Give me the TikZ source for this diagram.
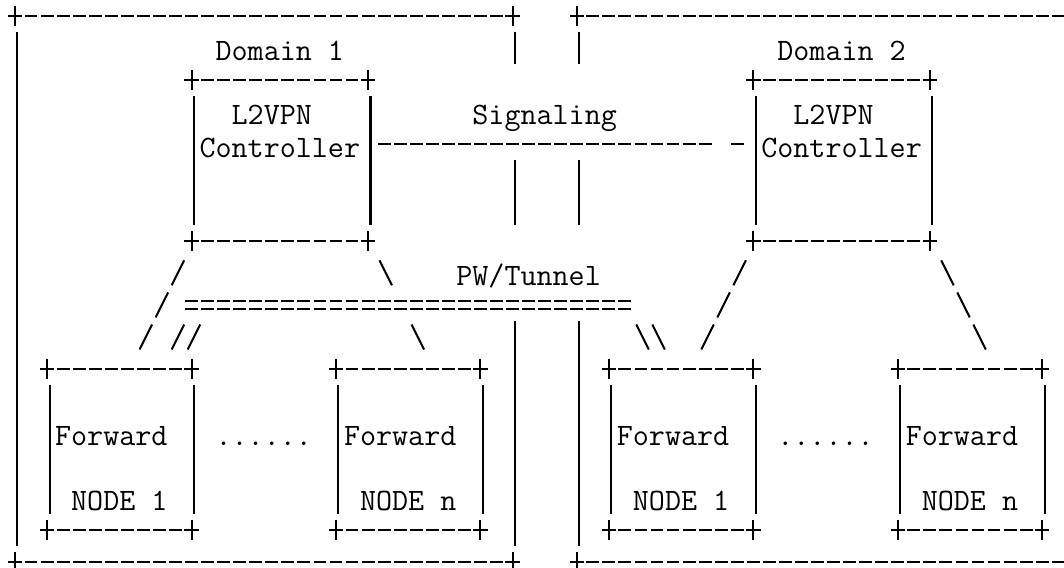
\documentclass[tikz,border=0pt]{standalone}
\usepackage{fontspec}
\usetikzlibrary{calc,fit}

\newlength{\chw}
\newcommand{\asciifont}{\ttfamily\fontsize{\asciisize}{20}\selectfont}
\AtBeginDocument{%
    \settowidth{\chw}{\ttfamily\fontsize{17.4}{20}\selectfont 0}%
    \pgfmathsetmacro{\asciisize}{17.4*9.133/\chw}%
}

\tikzset{
    glyph/.style={line width=1.15pt},
    hdash/.style={glyph, dash pattern=on 0.2568cm off 0.0642cm, dash phase=0.2889cm},
    vbar/.style={glyph},
    slash/.style={glyph, dash pattern=on 0.56cm off 0.158cm,
        shorten <=0.438cm, shorten >=0.438cm},
    slashgap/.style={glyph, dash pattern=on 0.56cm off 0.876cm,
        shorten <=0.438cm, shorten >=0.438cm},
    plus/.pic={\draw[glyph] (-0.45,0) -- (0.45,0) (0,-0.31) -- (0,0.31);},
    frame/.style={inner sep=0pt, outer sep=0pt},
    lbl/.style={inner sep=0pt, outer sep=0pt, text height=0.608cm,
        text depth=0.1cm, font=\asciifont}
}

% top and bottom rule of a box, with + at the corners
\newcommand{\asciiframe}[1]{%
    \draw[hdash] ($(#1.north west)+(0.5,0)$) -- ($(#1.north east)+(-0.5,0)$);
    \draw[hdash] ($(#1.south west)+(0.5,0)$) -- ($(#1.south east)+(-0.5,0)$);
    \foreach \corner in {north west,north east,south west,south east}
        \pic at (#1.\corner) {plus};
}
% left and right side of a box
\newcommand{\asciisides}[1]{%
    \draw[vbar] ($(#1.north west)+(0.15,-0.5)$) -- ($(#1.south west)+(0.15,0.5)$);
    \draw[vbar] ($(#1.north east)+(0.15,-0.5)$) -- ($(#1.south east)+(0.15,0.5)$);
}

\begin{document}
\begin{tikzpicture}[x=0.321cm, y=0.642cm]

\useasboundingbox (-0.935,0.498) rectangle (65.36,-17.196);
\clip (-0.935,0.498) rectangle (65.36,-17.196);

% Domains
\node[frame, fit={(0,0) (31,-17)}] (dom1) {};
\node[frame, fit={(35,0) (66,-17)}] (dom2) {};
\asciiframe{dom1}
\asciiframe{dom2}
\draw[vbar] ($(dom1.north west)+(0.15,-0.5)$) -- ($(dom1.south west)+(0.15,0.5)$);
\foreach \a/\b in {0.5/1.5, 4.5/6.5, 9.5/16.5} {
    \draw[vbar] ($(dom1.north east)+(0.15,-\a)$) -- ($(dom1.north east)+(0.15,-\b)$);
    \draw[vbar] ($(dom2.north west)+(0.15,-\a)$) -- ($(dom2.north west)+(0.15,-\b)$);
}
\node[lbl] (dom1lbl) at (16.5,-1) {Domain 1};
\node[lbl] (dom2lbl) at (51.5,-1) {Domain 2};

% Controllers
\node[frame, fit={(11,-2) (22,-7)}] (ctl1) {};
\node[frame, fit={(46,-2) (57,-7)}] (ctl2) {};
\foreach \b in {ctl1,ctl2} {
    \asciiframe{\b}
    \asciisides{\b}
}
\node[lbl] (ctl1a) at (16,-3) {L2VPN};
\node[lbl] (ctl1c) at (16.5,-4) {Controller};
\node[lbl] (ctl2a) at (51,-3) {L2VPN};
\node[lbl] (ctl2c) at (51.5,-4) {Controller};

% Signaling
\node[lbl] (sig) at (33,-3) {Signaling};
\draw[hdash, shorten <=0.321cm, shorten >=0.963cm] (ctl1c.east) -- (ctl2c.west);
\draw[hdash] ($(ctl2c.west)+(-2,0)$) -- ($(ctl2c.west)+(-1,0)$);

% Forward nodes
\node[frame, fit={(2,-11) (11,-16)}] (fwd1a) {};
\node[frame, fit={(20,-11) (29,-16)}] (fwd1b) {};
\node[frame, fit={(37,-11) (46,-16)}] (fwd2a) {};
\node[frame, fit={(55,-11) (64,-16)}] (fwd2b) {};
\foreach \b in {fwd1a,fwd1b,fwd2a,fwd2b} {
    \asciiframe{\b}
    \asciisides{\b}
}
\foreach \n/\x/\k in {fwd1a/6/1, fwd1b/24/n, fwd2a/41/1, fwd2b/59/n} {
    \node[lbl] (\n f) at (\x,-13) {Forward};
    \node[lbl] (\n n) at (\x+0.5,-15) {NODE \k};
}
\node[lbl] (dots1) at (15.5,-13) {......};
\node[lbl] (dots2) at (50.5,-13) {......};

% PW/Tunnel
\node[lbl] (pw) at (32,-8) {PW/Tunnel};
\node[frame, fit={(10.5,-9) (38.5,-9)}] (tun) {};
\draw[hdash] ($(tun.west)+(0,0.125)$) -- ($(tun.east)+(0,0.125)$);
\draw[hdash] ($(tun.west)+(0,-0.125)$) -- ($(tun.east)+(0,-0.125)$);

% Links controller -> forward nodes
\draw[slash] ($(ctl1.south west)+(0.15,0)$) -- ($(fwd1a.north)+(0.65,0)$);
\draw[slashgap] ($(ctl1.south east)+(0.1,0)$) -- ($(fwd1b.north)+(1.6,0)$);
\draw[slash] ($(ctl2.south west)+(0.15,0)$) -- ($(fwd2a.north)+(0.65,0)$);
\draw[slash] ($(ctl2.south east)+(0.1,0)$) -- ($(fwd2b.north)+(1.6,0)$);

% Links tunnel -> forward nodes
\foreach \d in {0,1} {
    \draw[slash] ($(tun.west)+(0.65+\d,0)$) -- ($(fwd1a.north east)+(-1.85+\d,0)$);
    \draw[slash] ($(tun.east)+(-0.4+\d,0)$) -- ($(fwd2a.north west)+(3.1+\d,0)$);
}

\end{tikzpicture}
\end{document}
